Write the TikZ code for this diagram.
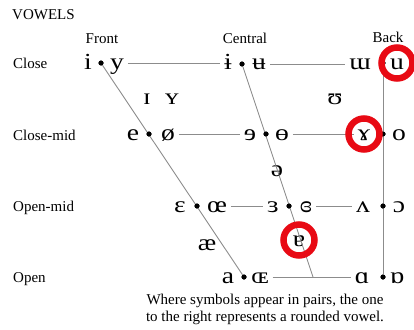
\documentclass[tikz,border=0pt]{standalone}
\usepackage{fontspec}
\setmainfont{Liberation Serif}
\newfontfamily\ipafont[FakeStretch=1.2]{Liberation Serif}
\definecolor{ringred}{RGB}{232,10,20}
\definecolor{linegray}{RGB}{140,140,140}
\begin{document}
\begin{tikzpicture}[x=1pt,y=-1pt,
  lbl/.style={font=\fontsize{15}{16}\selectfont, inner sep=0pt, anchor=base west},
  hdr/.style={font=\fontsize{15}{16}\selectfont, inner sep=0pt, anchor=base},
  sym/.style={font=\ipafont\fontsize{23}{24}\selectfont, inner sep=0pt, outer sep=4pt, anchor=base},
  vdot/.style={circle, fill=black, inner sep=0pt, minimum size=5pt},
  gl/.style={draw=linegray, line width=0.9pt},
  ring/.style={draw=ringred, line width=6.5pt, circle, minimum size=31pt, inner sep=0pt}]
\useasboundingbox (0,0) rectangle (414,329);
% labels
\node[lbl] (vw) at (12,20) {VOWELS};
\node[hdr] (fr) at (102,44) {Front};
\node[hdr] (ce) at (245,44) {Central};
\node[hdr] (bk) at (388,43) {Back};
\node[lbl] (lc) at (13,68) {Close};
\node[lbl] (lcm) at (13,140) {Close-mid};
\node[lbl] (lom) at (13,211) {Open-mid};
\node[lbl] (lo) at (13,282) {Open};
% dots
\node[vdot] (d11) at (101,63) {};
\node[vdot] (d12) at (242,64) {};
\node[vdot] (d13) at (383,63) {};
\node[vdot] (d21) at (149,134) {};
\node[vdot] (d22) at (266,134) {};
\node[vdot] (d23) at (383,134) {};
\node[vdot] (d31) at (197,206) {};
\node[vdot] (d32) at (289,206) {};
\node[vdot] (d33) at (383,206) {};
\node[vdot] (d41) at (244,277) {};
\node[vdot] (d43) at (383,277) {};
\coordinate (c42) at (313,277);
% symbols
\node[sym] (s11a) at (88,69) {i};
\node[sym] (s11b) at (117,69) {y};
\node[sym] (s12a) at (228,69) {ɨ};
\node[sym] (s12b) at (259,69) {ʉ};
\node[sym] (s13a) at (360,69) {ɯ};
\node[sym] (s13b) at (397,69) {u};
\node[sym] (s21a) at (133,140) {e};
\node[sym] (s21b) at (168,140) {ø};
\node[sym] (s22a) at (250,140) {ɘ};
\node[sym] (s22b) at (282,140) {ɵ};
\node[sym] (s23a) at (364,140) {ɤ};
\node[sym] (s23b) at (399,140) {o};
\node[sym] (s31a) at (180,212) {ɛ};
\node[sym] (s31b) at (217,212) {œ};
\node[sym] (s32a) at (273,212) {ɜ};
\node[sym] (s32b) at (306,212) {ɞ};
\node[sym] (s33a) at (363,212) {ʌ};
\node[sym] (s33b) at (399,212) {ɔ};
\node[sym] (s41a) at (228,283) {a};
\node[sym] (s41b) at (260,283) {ɶ};
\node[sym] (s43a) at (362,283) {ɑ};
\node[sym] (s43b) at (397,283) {ɒ};
\node[sym] (sI) at (147,104) {ɪ};
\node[sym] (sY) at (172,104) {ʏ};
\node[sym] (sU) at (335,104) {ʊ};
\node[sym] (sschwa) at (277,176) {ə};
\node[sym] (sae) at (207,250) {æ};
\node[sym] (sturn) at (299,246) {ɐ};
% lines
\draw[gl] (d11) -- (d41);
\draw[gl] (d12) -- (c42);
\draw[gl] (d13) -- (d43);
\draw[gl] (s11b.east |- d11) -- (s12a.west |- d11);
\draw[gl] (s12b.east |- d12) -- (s13a.west |- d12);
\draw[gl] (s21b.east |- d21) -- (s22a.west |- d21);
\draw[gl] (s22b.east |- d22) -- (s23a.west |- d22);
\draw[gl] (s31b.east |- d31) -- (s32a.west |- d31);
\draw[gl] (s32b.east |- d32) -- (s33a.west |- d32);
\draw[gl] (s41b.east |- d41) -- (s43a.west |- d43);
% dots on top
\foreach \d in {d11,d12,d13,d21,d22,d23,d31,d32,d33,d41,d43} \fill (\d) circle (2.5pt);
% rings
\node[ring] (r1) at (397,63) {};
\node[ring] (r2) at (364,134) {};
\node[ring] (r3) at (299,240) {};
% caption
\node[font=\fontsize{15}{16.5}\selectfont, align=center, inner sep=0pt, anchor=base] (cap) at (265,321) {Where symbols appear in pairs, the one\\ to the right represents a rounded vowel.};
\end{tikzpicture}
\end{document}
